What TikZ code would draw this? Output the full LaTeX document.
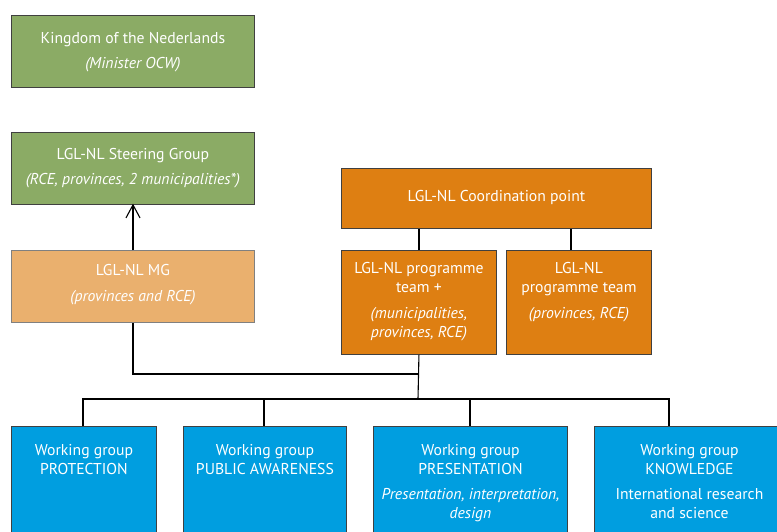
\documentclass[tikz,border=0pt]{standalone}
\usepackage{fontspec}
\setmainfont{PT Sans}
\definecolor{bgreen}{HTML}{8BAB65}
\definecolor{bmg}{HTML}{EAB06E}
\definecolor{borange}{HTML}{DE7F12}
\definecolor{bblue}{HTML}{009EE0}
\definecolor{bline}{HTML}{404040}
\tikzset{
  box/.style={draw=bline, line width=0.9pt, text=white, inner sep=0pt, anchor=north west, font=\fontsize{15.7}{19}\selectfont},
  conn/.style={draw=black, line width=1.1pt},
}
\newcommand{\bx}[4]{\parbox[c][#2][t]{#1}{\centering\vspace*{#3}#4\par}}
\begin{document}
\begin{tikzpicture}[x=1pt,y=-1pt]
\useasboundingbox (0,0) rectangle (777,531);
\begin{scope}
\clip (0,0) rectangle (777,531);
% green
\node[box, fill=bgreen] (king) at (11,15) {\bx{243pt}{72pt}{17pt}{Kingdom of the Nederlands\\[6pt]\textit{(Minister OCW)}}};
\node[box, fill=bgreen] (steer) at (11,132) {\bx{243pt}{72pt}{16pt}{LGL-NL Steering Group\\[6pt]\textit{(RCE, provinces, 2 municipalities*)}}};
\node[box, fill=bmg, draw=gray] (mg) at (11,250) {\bx{243pt}{72pt}{14pt}{LGL-NL MG\\[7pt]\textit{(provinces and RCE)}}};
% orange
\node[box, fill=borange] (coord) at (341,168) {\bx{310pt}{60pt}{22pt}{LGL-NL Coordination point}};
\node[box, fill=borange] (pt1) at (341,250) {\bx{155pt}{104pt}{12pt}{LGL-NL programme\\team +\\[7pt]\textit{(municipalities,}\\\textit{provinces, RCE)}}};
\node[box, fill=borange] (pt2) at (506,250) {\bx{145pt}{104pt}{12pt}{LGL-NL\\programme team\\[7pt]\textit{(provinces, RCE)}}};
% blue
\node[box, fill=bblue] (wg1) at (11,426) {\bx{145pt}{130pt}{18pt}{Working group\\PROTECTION}};
\node[box, fill=bblue] (wg2) at (183,426) {\bx{163pt}{130pt}{18pt}{Working group\\PUBLIC AWARENESS}};
\node[box, fill=bblue] (wg3) at (373,426) {\bx{194pt}{130pt}{18pt}{Working group\\PRESENTATION\\[6pt]\textit{Presentation, interpretation,}\\\textit{design}}};
\node[box, fill=bblue] (wg4) at (594,426) {\bx{190pt}{130pt}{18pt}{Working group\\KNOWLEDGE\\[6pt]International research\\and science}};
\end{scope}
% connectors
\coordinate (bus) at (418,399);
\coordinate (mgj) at (418,374);
\coordinate (tip) at (steer.south -| 133,0);
\draw[conn] (mg.north -| 133,0) -- (tip);
\draw[conn, line join=miter] (tip) ++(-7,13) -- (tip) -- ++(7,13);
\draw[conn] (pt1.north) -- (pt1.north |- coord.south);
\draw[conn] (coord.south -| 571,0) -- (pt2.north -| 571,0);
\draw[conn] (pt1.south) -- (bus);
\draw[conn] (mg.south -| 133,0) |- (mgj);
\draw[conn] (wg1.north -| 83,0) |- (bus -| 669,0) -- (wg4.north -| 669,0);
\draw[conn] (bus -| 264,0) -- (wg2.north -| 264,0);
\draw[conn] (bus -| 470,0) -- (wg3.north -| 470,0);
\end{tikzpicture}
\end{document}
